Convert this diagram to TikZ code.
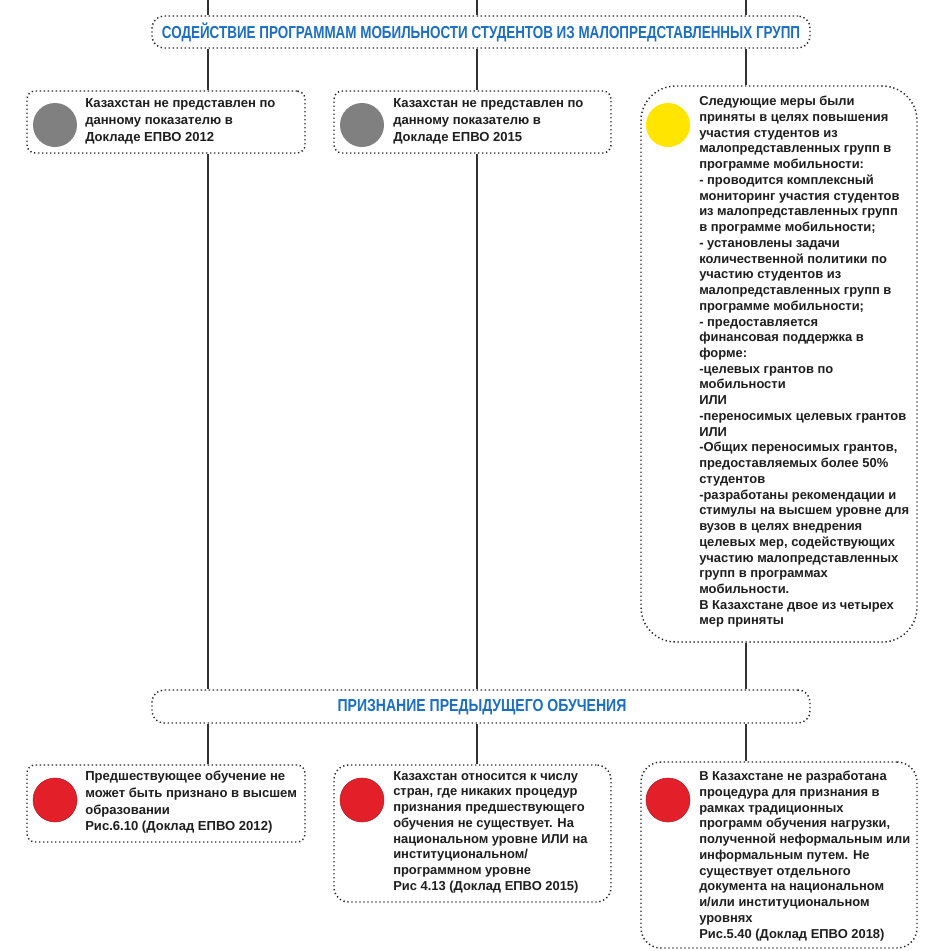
\documentclass[tikz,border=0pt]{standalone}
\usepackage{fontspec}
\usepackage{graphicx}
\setmainfont{Liberation Sans}
\usetikzlibrary{fit}
\definecolor{hblue}{HTML}{1B6EC2}
\definecolor{txt}{HTML}{1E1E1E}
\definecolor{dgray}{HTML}{808080}
\definecolor{yel}{HTML}{FFE500}
\definecolor{red1}{HTML}{E3202A}
\tikzset{
  dotbox/.style={draw=black!85, line width=1.1pt, dash pattern=on 1pt off 2pt, fill=white, inner sep=0pt},
  conn/.style={draw=black!80, line width=1.1pt},
  dotc/.style={circle, minimum size=33pt, inner sep=0pt},
  body/.style={anchor=north west, inner sep=0pt, align=left, font=\fontsize{9.7}{11.8}\selectfont\bfseries, text=txt},
  head/.style={inner sep=0pt, font=\fontsize{13}{15}\selectfont\bfseries, text=hblue},
}
\begin{document}
\begin{tikzpicture}[x=0.75pt,y=-0.75pt]
\useasboundingbox (0,0) rectangle (945,951);
% headers
\node[dotbox, rounded corners=9pt, fit={(152,16)(810,48)}] (h1) {};
\node[head] (h1t) at (481,32) {\scalebox{0.775}[1]{СОДЕЙСТВИЕ ПРОГРАММАМ МОБИЛЬНОСТИ СТУДЕНТОВ ИЗ МАЛОПРЕДСТАВЛЕННЫХ ГРУПП}};
\node[dotbox, rounded corners=9pt, fit={(152,690)(810,723)}] (h2) {};
\node[head] (h2t) at (482,707) {\scalebox{0.81}[1]{ПРИЗНАНИЕ ПРЕДЫДУЩЕГО ОБУЧЕНИЯ}};
% row 1
\node[dotbox, rounded corners=6pt, fit={(27,91)(305,153)}] (a) {};
\node[dotbox, rounded corners=6pt, fit={(334,91)(611,153)}] (b) {};
\node[dotbox, rounded corners=26pt, fit={(641,86)(917,642)}] (c) {};
\node[dotc, fill=dgray] (ac) at (55,125) {};
\node[dotc, fill=dgray] (bc) at (362,125) {};
\node[dotc, fill=yel] (cc) at (668,125) {};
\node[body, font=\fontsize{9.8}{12.75}\selectfont\bfseries] (at) at (85,98) {Казахстан не представлен по\\данному показателю в\\Докладе ЕПВО 2012};
\node[body, font=\fontsize{9.8}{12.75}\selectfont\bfseries] (bt) at (393,98) {Казахстан не представлен по\\данному показателю в\\Докладе ЕПВО 2015};
\node[body] (ct) at (699,96) {Следующие меры были\\приняты в целях повышения\\участия студентов из\\малопредставленных групп в\\программе мобильности:\\- проводится комплексный\\мониторинг участия студентов\\из малопредставленных групп\\в программе мобильности;\\- установлены задачи\\количественной политики по\\участию студентов из\\малопредставленных групп в\\программе мобильности;\\- предоставляется\\финансовая поддержка в\\форме:\\-целевых грантов по\\мобильности\\ИЛИ\\-переносимых целевых грантов\\ИЛИ\\-Общих переносимых грантов,\\предоставляемых более 50\%\\студентов\\-разработаны рекомендации и\\стимулы на высшем уровне для\\вузов в целях внедрения\\целевых мер, содействующих\\участию малопредставленных\\групп в программах\\мобильности.\\В Казахстане двое из четырех\\мер приняты};
% row 2
\node[dotbox, rounded corners=6pt, fit={(27,765)(305,842)}] (d) {};
\node[dotbox, rounded corners=11pt, fit={(334,765)(611,902)}] (e) {};
\node[dotbox, rounded corners=15pt, fit={(641,762)(917,948)}] (f) {};
\node[dotc, fill=red1, draw=red1!80!black, line width=0.4pt] (dc) at (55,800) {};
\node[dotc, fill=red1, draw=red1!80!black, line width=0.4pt] (ec) at (362,800) {};
\node[dotc, fill=red1, draw=red1!80!black, line width=0.4pt] (fc) at (668,800) {};
\node[body, font=\fontsize{9.8}{12.5}\selectfont\bfseries] (dt) at (85,771) {Предшествующее обучение не\\может быть признано в высшем\\образовании\\Рис.6.10 (Доклад ЕПВО 2012)};
\node[body] (et) at (393,771) {Казахстан относится к числу\\стран, где никаких процедур\\признания предшествующего\\обучения не существует. На\\национальном уровне ИЛИ на\\институциональном/\\программном уровне\\Рис 4.13 (Доклад ЕПВО 2015)};
\node[body] (ft) at (699,771) {В Казахстане не разработана\\процедура для признания в\\рамках традиционных\\программ обучения нагрузки,\\полученной неформальным или\\информальным путем. Не\\существует отдельного\\документа на национальном\\и/или институциональном\\уровнях\\Рис.5.40 (Доклад ЕПВО 2018)};
% connectors
\coordinate (c1) at (208,0);
\coordinate (c2) at (477,0);
\coordinate (c3) at (746,0);
\draw[conn] (c1) -- (c1 |- h1.north);
\draw[conn] (c2) -- (c2 |- h1.north);
\draw[conn] (c3) -- (c3 |- h1.north);
\draw[conn] (c1 |- h1.south) -- (c1 |- a.north);
\draw[conn] (c2 |- h1.south) -- (c2 |- b.north);
\draw[conn] (c3 |- h1.south) -- (c3 |- c.north);
\draw[conn] (c1 |- a.south) -- (c1 |- h2.north);
\draw[conn] (c2 |- b.south) -- (c2 |- h2.north);
\draw[conn] (c3 |- c.south) -- (c3 |- h2.north);
\draw[conn] (c1 |- h2.south) -- (c1 |- d.north);
\draw[conn] (c2 |- h2.south) -- (c2 |- e.north);
\draw[conn] (c3 |- h2.south) -- (c3 |- f.north);
\end{tikzpicture}
\end{document}
